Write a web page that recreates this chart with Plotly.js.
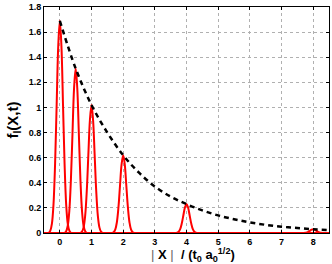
<!DOCTYPE html>
<html><head><meta charset="utf-8">
<script src="https://cdn.plot.ly/plotly-3.0.1.min.js"></script>
<style>html,body{margin:0;padding:0;background:#fff}</style>
</head><body><div id="chart" style="width:332px;height:264px"></div>
<script>
// Peak centres and heights
const peakCenters = [0, 0.5, 1, 2, 4, 8];
const peakHeights = [1.69, 1.31, 1.02, 0.62, 0.23, 0.03];
// Normalised peak profile (offset from centre, fraction of height)
const profileOffsets = [-0.35, -0.3, -0.25, -0.2, -0.15, -0.1, -0.05, 0, 0.05, 0.1, 0.15, 0.2, 0.25, 0.3, 0.35];
const profileFractions = [0, 0.011, 0.044, 0.135, 0.325, 0.607, 0.882, 1, 0.882, 0.607, 0.325, 0.135, 0.044, 0.011, 0];
// Envelope (dashed) values
const envX = [0, 0.5, 1, 1.5, 2, 2.5, 3, 3.5, 4, 4.5, 5, 5.5, 6, 6.5, 7, 7.5, 8, 8.5];
const envY = [1.69, 1.31, 1.02, 0.8, 0.62, 0.48, 0.37, 0.29, 0.23, 0.18, 0.14, 0.11, 0.085, 0.065, 0.05, 0.04, 0.03, 0.024];
const xTicks = [0, 1, 2, 3, 4, 5, 6, 7, 8];
const yTicks = [0, 0.2, 0.4, 0.6, 0.8, 1, 1.2, 1.4, 1.6, 1.8];

const traces = [];
traces.push({x: [-0.5, 8.5], y: [0, 0], mode: 'lines', line: {color: '#ff0000', width: 2}, hoverinfo: 'skip'});
peakCenters.forEach((c, i) => {
  traces.push({
    x: profileOffsets.map(o => c + o),
    y: profileFractions.map(f => f * peakHeights[i]),
    mode: 'lines', line: {color: '#ff0000', width: 2, shape: 'spline'}, hoverinfo: 'skip'
  });
});
traces.push({x: envX, y: envY, mode: 'lines', line: {color: '#000000', width: 2.5, dash: '5px,4px', shape: 'spline'}});

const tfont = 'Liberation Sans, Arial, sans-serif';
const layout = {
  width: 332, height: 264,
  margin: {l: 44, r: 3, t: 7, b: 31},
  showlegend: false,
  paper_bgcolor: '#fff', plot_bgcolor: '#fff',
  font: {family: tfont, size: 9, color: '#000'},
  xaxis: {
    range: [-0.5, 8.5], tickvals: xTicks, ticktext: xTicks.map(v => '<b>' + v + '</b>'),
    showgrid: true, gridcolor: '#b0b0b0', griddash: 'dot', gridwidth: 1,
    zeroline: false, showline: true, linecolor: '#000', linewidth: 1, mirror: 'ticks',
    ticks: 'inside', ticklen: 3, tickcolor: '#000'
  },
  yaxis: {
    range: [0, 1.8], tickvals: yTicks, ticktext: yTicks.map(v => '<b>' + v + '</b>'),
    showgrid: true, gridcolor: '#b0b0b0', griddash: 'dot', gridwidth: 1,
    zeroline: false, showline: true, linecolor: '#000', linewidth: 1, mirror: 'ticks',
    ticks: 'inside', ticklen: 3, tickcolor: '#000',
    title: {text: '<b>f<sub>l</sub>(X,t)</b>', font: {family: tfont, size: 15, color: '#000'}, standoff: 6}
  },
  annotations: [{
    xref: 'paper', yref: 'paper', x: 0.523, y: -0.098, xanchor: 'center', yanchor: 'middle',
    showarrow: false,
    text: '<span style="color:#666666">|</span> <b>X</b> <span style="color:#666666">|</span>  <b>/ (t<sub>0</sub> a<sub>0</sub><sup>1/2</sup>)</b>',
    font: {family: tfont, size: 13, color: '#000'}
  }]
};
Plotly.newPlot('chart', traces, layout, {displayModeBar: false, staticPlot: true});
</script></body></html>
